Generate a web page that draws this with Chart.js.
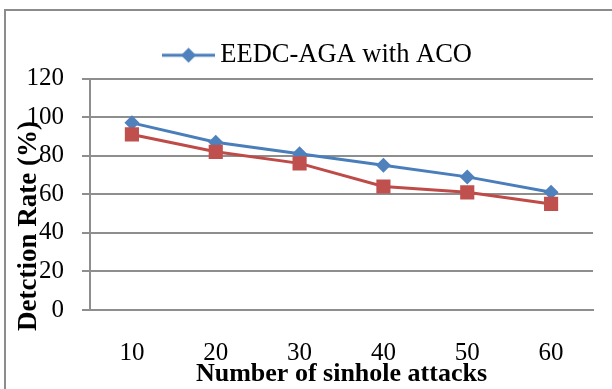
<!DOCTYPE html>
<html>
<head>
<meta charset="utf-8">
<script src="https://cdn.jsdelivr.net/npm/chart.js@4/dist/chart.umd.min.js"></script>
<style>
  html, body { margin: 0; padding: 0; background: #ffffff; }
  body { width: 612px; height: 389px; position: relative; overflow: hidden; }
  #frame {
    position: absolute; left: 4px; top: 9px; width: 700px; height: 500px;
    border-left: 2px solid #8c8c8c; border-top: 2px solid #8c8c8c;
    box-sizing: border-box;
  }
  #wrap { position: absolute; left: 0; top: 0; width: 612px; height: 389px; }
</style>
</head>
<body>
<div id="frame"></div>
<div id="wrap"><canvas id="chart" width="612" height="389"></canvas></div>
<script>
// Number of sinkhole attacks on the x axis
const categories = ['10', '20', '30', '40', '50', '60'];
// Detection rate (%) per scheme
const eedcAgaAco = [97, 87, 81, 75, 69, 61];
const eedcAga = [91, 82, 76, 64, 61, 55];
// Y axis range
const yTicks = [0, 20, 40, 60, 80, 100, 120];

const serif = "'Liberation Serif', 'Times New Roman', serif";
const blue = '#4A7EBB';
const red = '#BE4B48';

// Legend symbol: short line with a diamond marker
function legendSymbol(color) {
  const c = document.createElement('canvas');
  c.width = 53; c.height = 16;
  const g = c.getContext('2d');
  g.strokeStyle = color;
  g.lineWidth = 3;
  g.beginPath(); g.moveTo(0, 8); g.lineTo(53, 8); g.stroke();
  g.fillStyle = '#4F81BD';
  g.beginPath();
  g.moveTo(26.5 - 7.5, 8); g.lineTo(26.5, 0.5); g.lineTo(26.5 + 7.5, 8); g.lineTo(26.5, 15.5);
  g.closePath(); g.fill();
  return c;
}
const blueSymbol = legendSymbol(blue);

// Rotated y-axis title, and the legend nudged right of centre
const decorPlugin = {
  id: 'decor',
  afterLayout(chart) {
    if (chart.legend) {
      chart.legend.left += 15;
      chart.legend.right += 15;
    }
  },
  afterDraw(chart) {
    const ctx = chart.ctx;
    ctx.save();
    ctx.translate(36, 226);
    ctx.rotate(-Math.PI / 2);
    ctx.font = 'bold 27px ' + serif;
    ctx.fillStyle = '#000000';
    ctx.textAlign = 'center';
    ctx.textBaseline = 'alphabetic';
    ctx.fillText('Detction Rate (%)', 0, 0);
    ctx.restore();
  }
};

new Chart(document.getElementById('chart'), {
  type: 'line',
  data: {
    labels: categories,
    datasets: [
      {
        label: 'EEDC-AGA with ACO',
        data: eedcAgaAco,
        borderColor: blue,
        backgroundColor: '#4F81BD',
        borderWidth: 3,
        pointStyle: 'rectRot',
        pointRadius: 7.5,
        pointHoverRadius: 7.5,
        pointBorderWidth: 0,
        tension: 0,
        order: 1
      },
      {
        label: 'EEDC-AGA',
        data: eedcAga,
        borderColor: red,
        backgroundColor: '#C0504D',
        borderWidth: 3,
        pointStyle: 'rect',
        pointRadius: 10,
        pointHoverRadius: 10,
        pointBorderWidth: 0,
        tension: 0,
        order: 0
      }
    ]
  },
  options: {
    responsive: false,
    animation: false,
    devicePixelRatio: 1,
    layout: { padding: { left: 19, right: 19, top: 22, bottom: 0 } },
    plugins: {
      tooltip: { enabled: false },
      legend: {
        display: true,
        position: 'top',
        align: 'center',
        labels: {
          font: { family: serif, size: 26.5 },
          color: '#000000',
          usePointStyle: true,
          pointStyleWidth: 37,
          padding: 20,
          generateLabels(chart) {
            const ds = chart.data.datasets[0];
            return [{
              text: ds.label,
              pointStyle: blueSymbol,
              fillStyle: ds.backgroundColor,
              strokeStyle: ds.borderColor,
              lineWidth: 0,
              hidden: false,
              datasetIndex: 0,
              fontColor: '#000000'
            }];
          }
        }
      }
    },
    scales: {
      x: {
        offset: true,
        grid: { display: false, drawTicks: false },
        border: { display: true, color: '#8e8e8e', width: 2 },
        ticks: {
          font: { family: serif, size: 25 },
          color: '#000000',
          padding: 28,
          maxRotation: 0
        },
        title: {
          display: true,
          text: 'Number of sinhole attacks',
          font: { family: serif, size: 26, weight: 'bold' },
          color: '#000000',
          padding: { top: 0, bottom: -1 }
        },
        afterFit(scale) { scale.height = 79; }
      },
      y: {
        min: yTicks[0],
        max: yTicks[yTicks.length - 1],
        afterBuildTicks(scale) { scale.ticks = yTicks.map(v => ({ value: v })); },
        grid: { color: '#8e8e8e', lineWidth: 2, drawTicks: true, tickLength: 8 },
        border: { display: true, color: '#8e8e8e', width: 2 },
        ticks: {
          font: { family: serif, size: 25 },
          color: '#000000',
          padding: 18
        },
        afterFit(scale) { scale.width = 71; }
      }
    }
  },
  plugins: [decorPlugin]
});
</script>
</body>
</html>
